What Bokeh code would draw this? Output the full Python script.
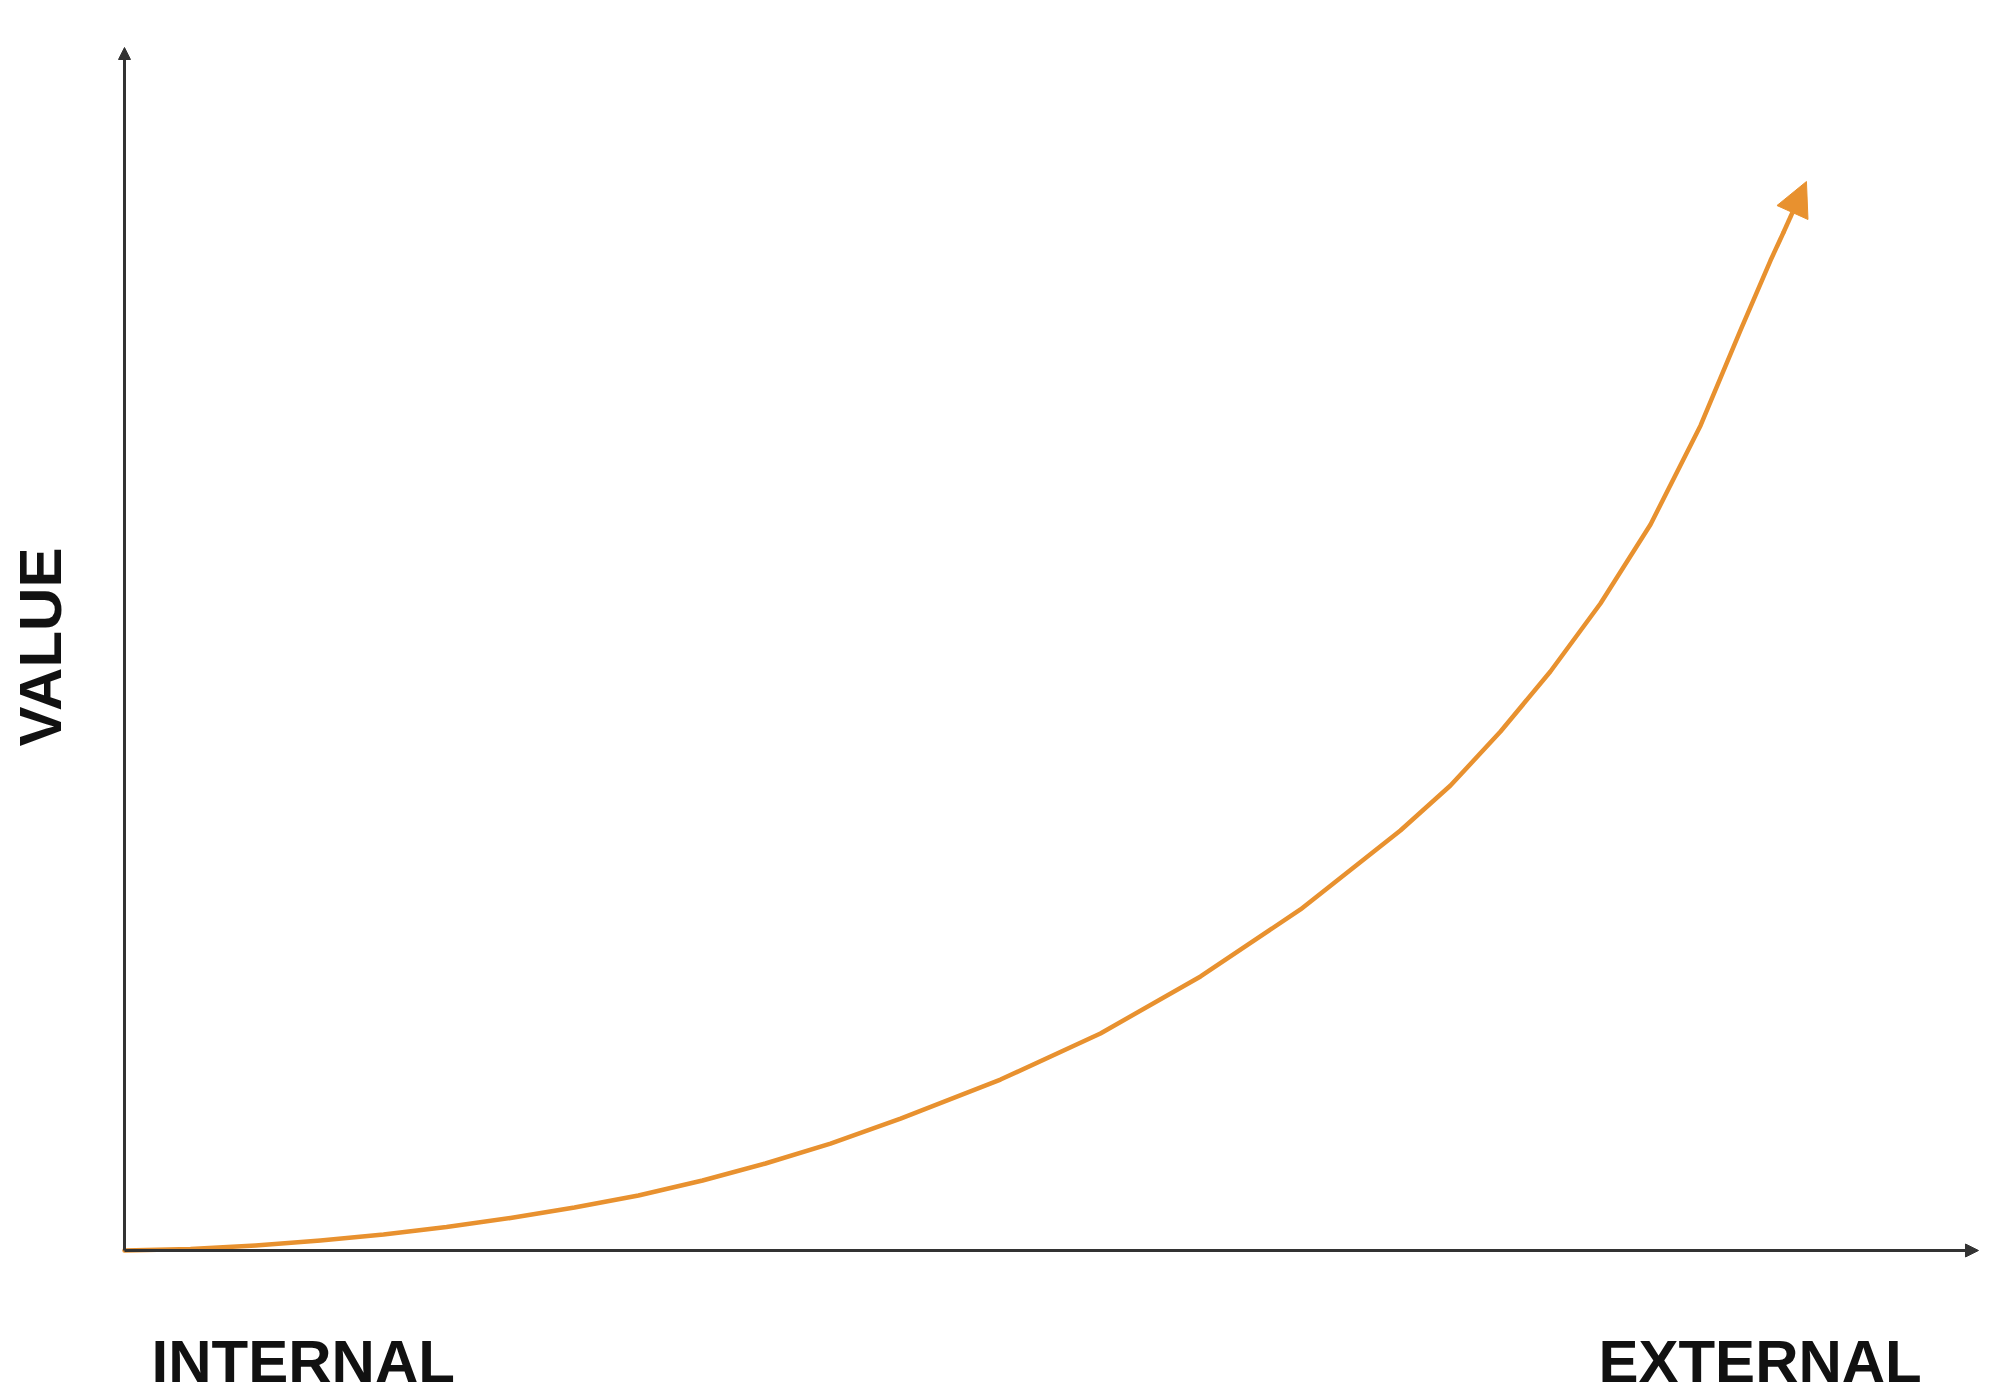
import math
from bokeh.plotting import figure
from bokeh.models import Range1d, Arrow, NormalHead, Label
from bokeh.embed import file_html
from bokeh.resources import INLINE

# ---- data (abstract units: each axis runs 0..100) ----
curve_x = [0.0, 3.56, 7.07, 10.57, 13.97, 17.37, 20.82, 24.27, 27.72, 31.18, 34.57,
           38.08, 41.86, 47.25, 52.64, 58.04, 63.43, 68.82, 71.52, 74.22, 76.91,
           79.61, 82.31, 85.01, 87.16, 88.78, 89.48]
curve_y = [0.0, 0.12, 0.42, 0.83, 1.33, 1.95, 2.70, 3.57, 4.57, 5.82, 7.23,
           8.89, 10.97, 14.21, 18.04, 22.78, 28.35, 34.91, 38.65, 43.14, 48.13,
           53.78, 60.35, 68.58, 76.48, 82.29, 84.62]
tip_x = 90.72
tip_y = 88.86
axis_x_end = 100
axis_y_end = 100
x_label_left = "INTERNAL"
x_label_right = "EXTERNAL"
y_label = "VALUE"

ORANGE = "#E8912F"
AXIS = "#333333"

p = figure(width=1984, height=1400,
           x_range=Range1d(-6.688, 100.324), y_range=Range1d(-12.469, 103.907),
           output_backend="svg", toolbar_location=None,
           x_axis_location=None, y_axis_location=None,
           min_border_left=0, min_border_right=0, min_border_top=0, min_border_bottom=0)
p.outline_line_color = None
p.grid.visible = False
p.background_fill_color = "white"
p.border_fill_color = "white"

# axes drawn as arrows
p.add_layout(Arrow(end=NormalHead(size=13, fill_color=AXIS, line_color=AXIS),
                   x_start=0, y_start=0, x_end=axis_x_end, y_end=0,
                   line_color=AXIS, line_width=3))
p.add_layout(Arrow(end=NormalHead(size=12, fill_color=AXIS, line_color=AXIS),
                   x_start=0, y_start=0, x_end=0, y_end=axis_y_end,
                   line_color=AXIS, line_width=3))

# growth curve
p.line(curve_x, curve_y, line_color=ORANGE, line_width=4.5, line_cap="round", line_join="round")
p.add_layout(Arrow(end=NormalHead(size=34, fill_color=ORANGE, line_color=ORANGE),
                   x_start=curve_x[-1], y_start=curve_y[-1], x_end=tip_x, y_end=tip_y,
                   line_color=ORANGE, line_width=4.5))

font_kw = dict(text_font="Liberation Sans", text_font_style="bold",
               text_font_size="60px", text_color="#111111", text_baseline="alphabetic")
p.add_layout(Label(x=1.46, y=-9.23, text=x_label_left, text_align="left", **font_kw))
p.add_layout(Label(x=79.50, y=-9.23, text=x_label_right, text_align="left", **font_kw))
p.add_layout(Label(x=-4.53, y=41.9, text=y_label, text_align="left", angle=math.pi / 2, **font_kw))

open("out.html", "w").write(file_html(p, INLINE))
